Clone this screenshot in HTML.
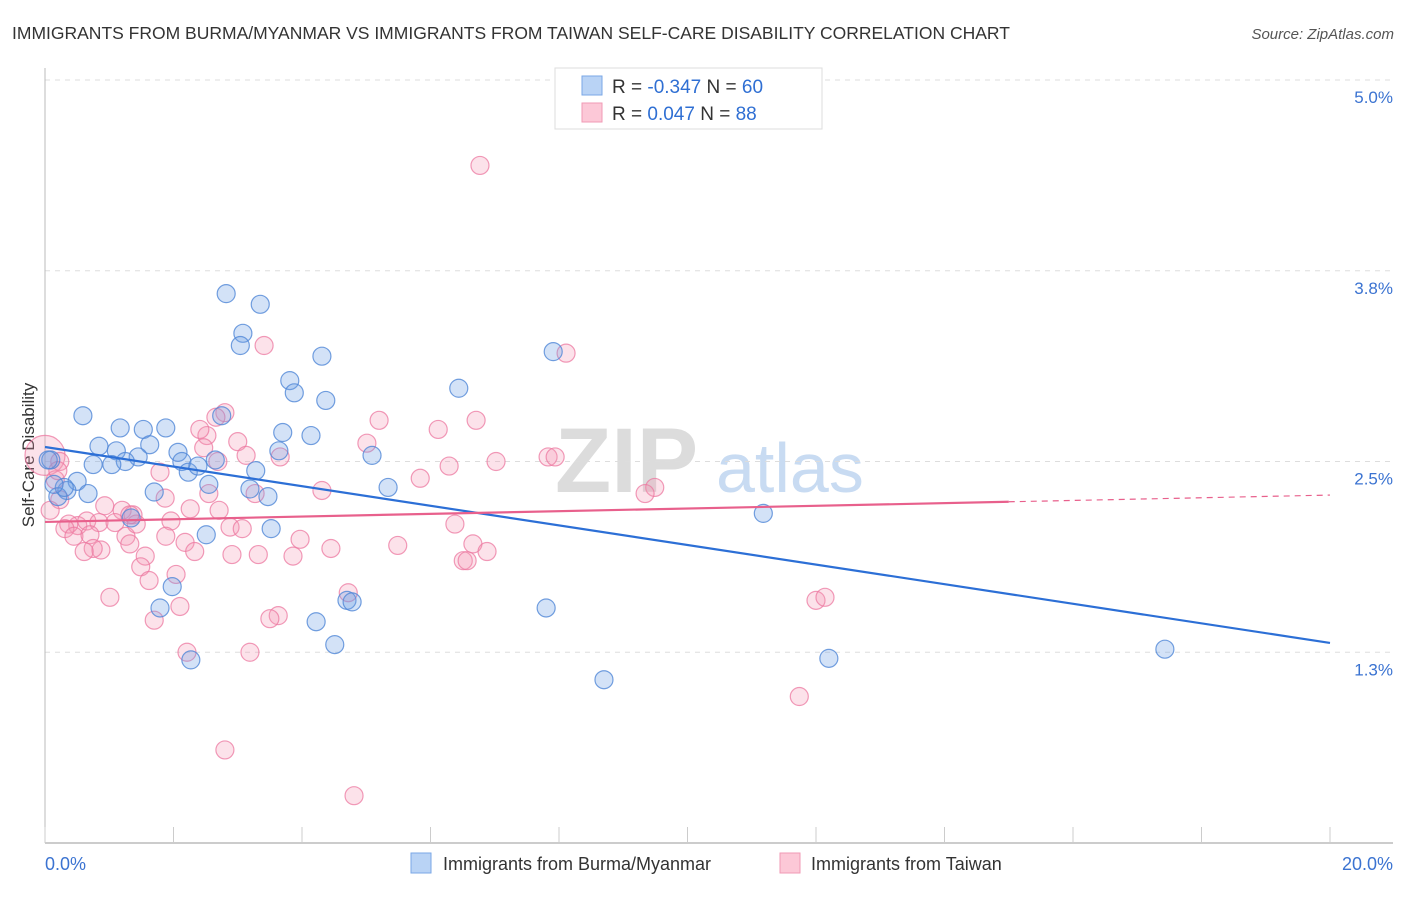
<!DOCTYPE html>
<html><head><meta charset="utf-8"><style>
body{margin:0;background:#fff;font-family:"Liberation Sans",sans-serif;}
svg text{font-family:"Liberation Sans",sans-serif;}
</style></head><body>
<svg id="chart" width="1406" height="892" xmlns="http://www.w3.org/2000/svg">
<text x="12" y="39" font-size="17.5" fill="#333">IMMIGRANTS FROM BURMA/MYANMAR VS IMMIGRANTS FROM TAIWAN SELF-CARE DISABILITY CORRELATION CHART</text>
<text x="1394" y="39" font-size="15" fill="#555" font-style="italic" text-anchor="end">Source: ZipAtlas.com</text>
<g>
<text x="555" y="492" font-size="92" fill="#dcdcdc" font-family="Liberation Serif" font-weight="bold">ZIP</text>
<text x="716" y="492" font-size="70" fill="#c8dbf2">atlas</text>
</g>
<g id="grid"></g>
<g id="axes"></g>
<text transform="translate(34,455) rotate(-90)" font-size="17" fill="#333" text-anchor="middle">Self-Care Disability</text>
<g id="marks"></g>
<g>
<rect x="555" y="68" width="267" height="61" fill="#fff" stroke="#ddd"/>
<rect x="582" y="76" width="20" height="19" fill="#b9d3f5" stroke="#7aa7e6"/>
<rect x="582" y="103" width="20" height="19" fill="#fcc8d7" stroke="#f09ab4"/>
<text x="612" y="93" font-size="19" fill="#333">R = <tspan fill="#2f6fd3">-0.347</tspan>   N = <tspan fill="#2f6fd3">60</tspan></text>
<text x="612" y="120" font-size="19" fill="#333">R =  <tspan fill="#2f6fd3">0.047</tspan>   N = <tspan fill="#2f6fd3">88</tspan></text>
</g>
<g>
<rect x="411" y="853" width="20" height="20" fill="#b9d3f5" stroke="#7aa7e6"/>
<text x="443" y="870" font-size="18" fill="#333">Immigrants from Burma/Myanmar</text>
<rect x="780" y="853" width="20" height="20" fill="#fcc8d7" stroke="#f09ab4"/>
<text x="811" y="870" font-size="18" fill="#333">Immigrants from Taiwan</text>
</g>
</svg>
<script>
const blueX=[0.59,1.17,1.53,1.88,0.84,1.11,1.63,1.45,2.07,1.25,0.75,1.04,2.13,2.23,2.38,2.65,2.82,3.35,3.08,3.04,2.75,3.70,3.81,3.88,4.37,4.31,4.14,3.64,3.28,3.19,3.47,2.55,1.70,1.34,2.51,3.52,1.98,1.79,2.27,4.22,4.51,4.70,4.78,5.09,5.34,6.44,7.91,7.80,8.70,11.18,12.20,17.43,0.50,0.34,0.20,0.67,0.09,0.30,0.05,0.14];
const blueY=[2.80,2.72,2.71,2.72,2.60,2.57,2.61,2.53,2.56,2.50,2.48,2.48,2.50,2.43,2.47,2.51,3.60,3.53,3.34,3.26,2.80,2.69,3.03,2.95,2.90,3.19,2.67,2.57,2.44,2.32,2.27,2.35,2.30,2.13,2.02,2.06,1.68,1.54,1.20,1.45,1.30,1.59,1.58,2.54,2.33,2.98,3.22,1.54,1.07,2.16,1.21,1.27,2.37,2.31,2.27,2.29,2.51,2.33,2.51,2.35];
const pinkX=[6.77,3.41,8.11,2.80,2.66,5.20,6.71,6.12,2.52,3.00,2.47,5.01,3.13,3.66,2.69,7.02,6.29,5.84,7.83,7.94,1.79,9.49,9.34,4.31,2.55,3.27,1.87,2.26,1.20,0.93,1.37,2.71,6.38,0.51,0.65,0.84,0.37,1.09,1.96,2.88,3.07,0.31,0.45,0.70,1.26,1.42,1.88,2.18,3.97,1.32,0.87,0.75,0.61,6.66,6.88,6.51,6.57,4.45,5.49,2.91,3.32,3.86,2.33,1.56,1.49,2.04,1.62,4.72,1.01,2.10,12.00,12.14,3.63,3.50,1.70,2.21,3.19,11.74,2.80,4.81,0.0,0.23,0.16,0.23,0.08,1.32,0.20,2.41];
const pinkY=[4.44,3.26,3.21,2.82,2.79,2.77,2.77,2.71,2.67,2.63,2.59,2.62,2.54,2.53,2.50,2.50,2.47,2.39,2.53,2.53,2.43,2.33,2.29,2.31,2.29,2.29,2.26,2.19,2.18,2.21,2.15,2.18,2.09,2.08,2.11,2.10,2.09,2.10,2.11,2.07,2.06,2.06,2.01,2.02,2.01,2.09,2.01,1.97,1.99,1.96,1.92,1.93,1.91,1.96,1.91,1.85,1.85,1.93,1.95,1.89,1.89,1.88,1.91,1.88,1.81,1.76,1.72,1.64,1.61,1.55,1.59,1.61,1.49,1.47,1.46,1.25,1.25,0.96,0.61,0.31,2.54,2.50,2.38,2.25,2.18,2.15,2.44,2.71];
const yTicks=[5.0,3.75,2.5,1.25];
const yTickLabels=["5.0%","3.8%","2.5%","1.3%"];
const xTicks=[0,2,4,6,8,10,12,14,16,18,20];
const blueTrend=[2.595,1.311];
const pinkTrend=[2.104,2.280];
const pinkSolidEnd=15.0;

const X0=45,X1=1330,Y0=843,YS=152.6;
const sx=v=>X0+(v/20)*(X1-X0);
const sy=v=>Y0-v*YS;
const NS="http://www.w3.org/2000/svg";
function mk(tag,attrs,parent){const e=document.createElementNS(NS,tag);for(const k in attrs)e.setAttribute(k,attrs[k]);parent.appendChild(e);return e;}
const grid=document.getElementById('grid'),axes=document.getElementById('axes'),marks=document.getElementById('marks');
yTicks.forEach((t,i)=>{
  const l=mk('line',{x1:X0,x2:1393,y1:sy(t),y2:sy(t),stroke:'#dddddd','stroke-dasharray':'5,5'},grid);
  
  
  const tx=mk('text',{x:1393,y:sy(t)+23,'font-size':17,fill:'#3b73d1','text-anchor':'end'},axes);
  tx.textContent=yTickLabels[i];
  
  
});
const ax=mk('line',{x1:X0,x2:X0,y1:68,y2:Y0,stroke:'#bbb'},axes);


const bx=mk('line',{x1:X0,x2:1393,y1:Y0,y2:Y0,stroke:'#bbb','stroke-width':1.5},axes);


xTicks.forEach(t=>{
  const l=mk('line',{x1:sx(t),x2:sx(t),y1:Y0-16,y2:Y0,stroke:'#ccc'},axes);
  
  
});
const xl=mk('text',{x:45,y:870,'font-size':18,fill:'#3b73d1'},axes);xl.textContent='0.0%';


const xr=mk('text',{x:1393,y:870,'font-size':18,fill:'#3b73d1','text-anchor':'end'},axes);xr.textContent='20.0%';



pinkX.forEach((v,i)=>{
  const big=(v===0);
  const c=mk('circle',{cx:sx(v),cy:sy(pinkY[i]),r:big?20:9,fill:'rgba(244,150,180,0.28)',stroke:'rgba(236,120,160,0.75)','stroke-width':1.2},marks);
  
  
});
blueX.forEach((v,i)=>{
  const c=mk('circle',{cx:sx(v),cy:sy(blueY[i]),r:9,fill:'rgba(110,160,230,0.3)',stroke:'rgba(80,135,215,0.8)','stroke-width':1.2},marks);
  
  
});
const bl=mk('line',{x1:sx(0),y1:sy(blueTrend[0]),x2:sx(20),y2:sy(blueTrend[1]),stroke:'#2c6fd6','stroke-width':2.2},marks);


const pm=pinkTrend[0]+(pinkTrend[1]-pinkTrend[0])*pinkSolidEnd/20;
const pl=mk('line',{x1:sx(0),y1:sy(pinkTrend[0]),x2:sx(pinkSolidEnd),y2:sy(pm),stroke:'#e8608c','stroke-width':2.2},marks);


const pd=mk('line',{x1:sx(pinkSolidEnd),y1:sy(pm),x2:sx(20),y2:sy(pinkTrend[1]),stroke:'#e8608c','stroke-width':1.2,'stroke-dasharray':'6,5'},marks);


</script>
</body></html>
